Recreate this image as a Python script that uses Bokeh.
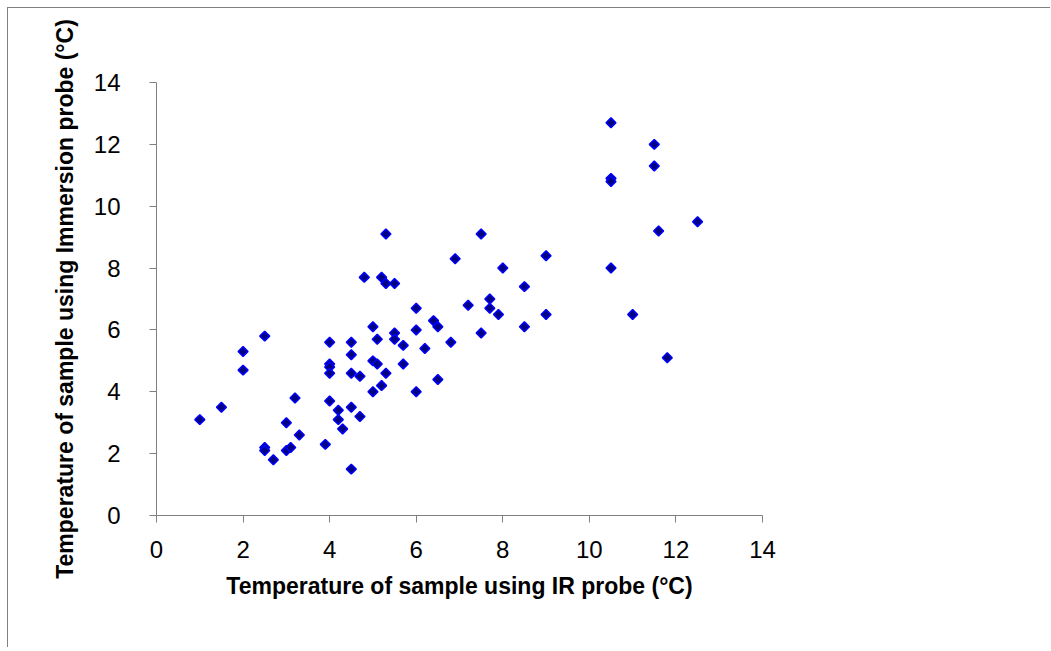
from bokeh.plotting import figure
from bokeh.models import FixedTicker, Range1d
from bokeh.embed import file_html
from bokeh.resources import INLINE
import numpy as np

# Temperature of sample using IR probe (°C)
ir_probe = [1.0, 1.5, 2.0, 2.0, 2.5, 2.5, 2.5, 2.7, 3.0, 3.0, 3.1, 3.2, 3.3, 3.9,
            4.0, 4.0, 4.0, 4.0, 4.0, 4.2, 4.2, 4.3, 4.5, 4.5, 4.5, 4.5, 4.5, 4.7, 4.7,
            4.8, 5.0, 5.0, 5.0, 5.1, 5.1, 5.2, 5.2, 5.3, 5.3, 5.5, 5.3, 5.5, 5.5,
            5.7, 5.7, 6.0, 6.0, 6.0, 6.2, 6.4, 6.5, 6.5, 6.8, 6.9, 7.2, 7.5, 7.5,
            7.7, 7.7, 7.9, 8.0, 8.5, 8.5, 9.0, 9.0, 10.5, 10.5, 10.5, 10.5, 11.0,
            11.5, 11.5, 11.6, 11.8, 12.5]
# Temperature of sample using Immersion probe (°C)
immersion_probe = [3.1, 3.5, 5.3, 4.7, 5.8, 2.2, 2.1, 1.8, 3.0, 2.1, 2.2, 3.8, 2.6, 2.3,
                   5.6, 4.9, 4.8, 4.6, 3.7, 3.4, 3.1, 2.8, 5.6, 5.2, 4.6, 3.5, 1.5, 4.5, 3.2,
                   7.7, 6.1, 5.0, 4.0, 5.7, 4.9, 7.7, 4.2, 9.1, 7.5, 7.5, 4.6, 5.9, 5.7,
                   5.5, 4.9, 6.7, 6.0, 4.0, 5.4, 6.3, 6.1, 4.4, 5.6, 8.3, 6.8, 9.1, 5.9,
                   7.0, 6.7, 6.5, 8.0, 7.4, 6.1, 8.4, 6.5, 12.7, 10.9, 10.8, 8.0, 6.5,
                   12.0, 11.3, 9.2, 5.1, 9.5]
axis_ticks = [0, 2, 4, 6, 8, 10, 12, 14]
x_title = "Temperature of sample using IR probe (°C)"
y_title = "Temperature of sample using Immersion probe (°C)"

p = figure(width=1043, height=640, output_backend="svg", toolbar_location=None,
           x_range=Range1d(0, 14), y_range=Range1d(0, 14),
           min_border_left=148, min_border_right=289,
           min_border_top=74, min_border_bottom=133)
p.styles = {"margin-left": "7px", "margin-top": "7px",
            "border-left": "1px solid #808080", "border-top": "1px solid #808080"}
p.outline_line_color = None
p.xgrid.grid_line_color = None
p.ygrid.grid_line_color = None
p.background_fill_color = "white"
p.border_fill_color = "white"

p.scatter(ir_probe, immersion_probe, marker="square", angle=np.pi / 4, size=7,
          fill_color="#000080", line_color="#0000FF", line_width=1.5)

for ax in (p.xaxis[0], p.yaxis[0]):
    ax.ticker = FixedTicker(ticks=axis_ticks)
    ax.minor_tick_line_color = None
    ax.major_tick_in = 0
    ax.major_tick_out = 7
    ax.axis_line_color = "#808080"
    ax.major_tick_line_color = "#808080"
    ax.major_label_text_font = "Liberation Sans"
    ax.major_label_text_font_size = "24px"
    ax.major_label_text_color = "black"
    ax.axis_label_text_font = "Liberation Sans"
    ax.axis_label_text_font_size = "23px"
    ax.axis_label_text_font_style = "bold"
    ax.axis_label_text_color = "black"

p.xaxis[0].axis_label = x_title
p.yaxis[0].axis_label = y_title
p.xaxis[0].major_label_standoff = 18
p.yaxis[0].major_label_standoff = 29
p.xaxis[0].axis_label_standoff = 12
p.yaxis[0].axis_label_standoff = 13

open("out.html", "w").write(file_html(p, INLINE))
